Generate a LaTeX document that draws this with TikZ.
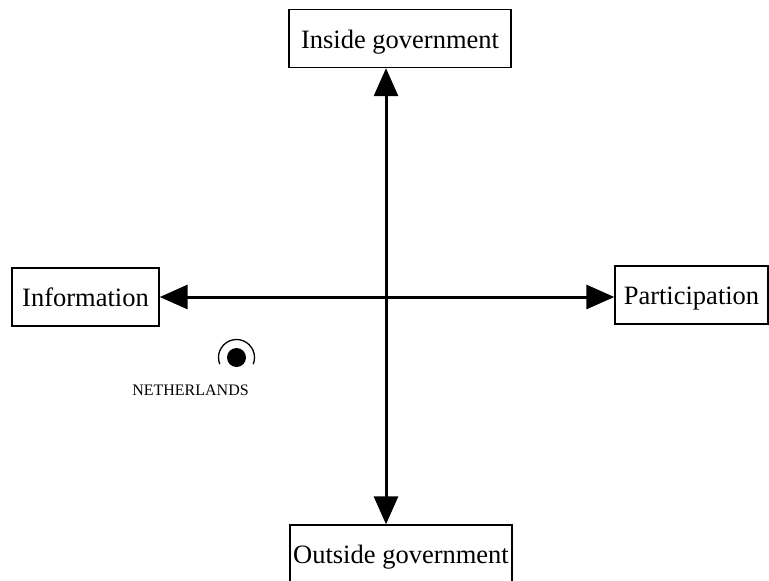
\documentclass[tikz,border=0pt]{standalone}
\usepackage{fontspec}
\setmainfont{Liberation Serif}
\usetikzlibrary{arrows.meta}
\begin{document}
\begin{tikzpicture}[x=1pt,y=-1pt,
  labelbox/.style={draw,line width=1.4pt,inner sep=0pt,minimum height=58pt,
    text height=19pt,text depth=0pt,font=\fontsize{26.5}{30}\selectfont},
  axis/.style={line width=3pt,-{Triangle[length=28pt,width=24pt]}}]
\useasboundingbox (0,0) rectangle (769,581);
% axis labels
\node[labelbox,minimum width=222pt] (inside) at (400,38.5) {Inside government};
\node[labelbox,minimum width=222pt] (outside) at (401,554) {Outside government};
\node[labelbox,minimum width=147pt] (info) at (85.5,297) {Information};
\node[labelbox,minimum width=153pt] (part) at (691.5,295) {Participation};
% origin of the two axes
\coordinate (origin) at (386,297);
\draw[axis] (origin) -- (origin |- inside.south);
\draw[axis] (origin) -- (origin |- outside.north);
\draw[axis] (origin) -- (info.east |- origin);
\draw[axis] (origin) -- (part.west |- origin);
% country marker
\coordinate (nl) at (236.5,357.5);
\fill (nl) circle (9.5);
\draw[line width=1.3pt] (nl) ++(158:18) arc[start angle=158,end angle=382,radius=18];
\node[font=\fontsize{16}{18}\selectfont] (nllabel) at (190.5,390) {NETHERLANDS};
\end{tikzpicture}
\end{document}
